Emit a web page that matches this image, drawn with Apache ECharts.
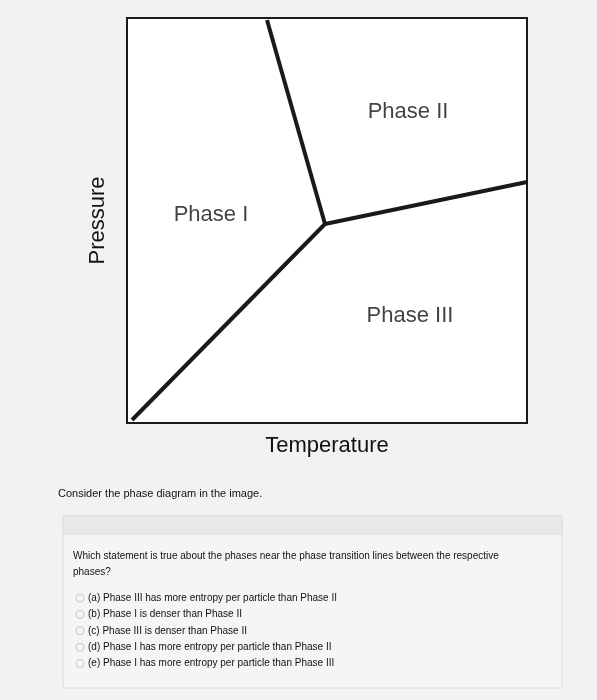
<!DOCTYPE html>
<html><head><meta charset="utf-8">
<script src="https://cdn.jsdelivr.net/npm/echarts@6/dist/echarts.min.js"></script>
<style>html,body{margin:0;padding:0;background:#f2f2f2}#c{width:597px;height:700px}</style>
</head><body><div id="c"></div>
<script>
// Phase boundary lines (temperature, pressure) in arbitrary units
const lineIIII = [[5,3],[198,199]];        // Phase I / Phase III
const lineIII = [[198,199],[140,403]];     // Phase I / Phase II
const lineIIIII = [[198,199],[400,241]];   // Phase II / Phase III
const phaseLabels = [["Phase II",281,311],["Phase I",84,208],["Phase III",283,107]];
const xName = "Temperature", yName = "Pressure";
const question = "Which statement is true about the phases near the phase transition lines between the respective";
const question2 = "phases?";
const options = [
 "(a) Phase III has more entropy per particle than Phase II",
 "(b) Phase I is denser than Phase II",
 "(c) Phase III is denser than Phase II",
 "(d) Phase I has more entropy per particle than Phase II",
 "(e) Phase I has more entropy per particle than Phase III"];

const chart = echarts.init(document.getElementById('c'));
const ls = {color:'#1a1a1a', width:4};
const tf = '500 10px "Liberation Sans", sans-serif';
const g = [
 {type:'text',style:{text:'Consider the phase diagram in the image.',x:58,y:494,fill:'#111',font:'500 11px "Liberation Sans", sans-serif',verticalAlign:'middle'}},
 {type:'rect',shape:{x:63,y:516,width:499,height:172},style:{fill:'#f5f5f5',stroke:'#dcdcdc',lineWidth:1}},
 {type:'rect',shape:{x:63,y:516,width:499,height:18},style:{fill:'#e8e8e8',stroke:'#dcdcdc',lineWidth:1}},
 {type:'text',style:{text:question,x:73,y:556,fill:'#111',font:tf,verticalAlign:'middle'}},
 {type:'text',style:{text:question2,x:73,y:572,fill:'#111',font:tf,verticalAlign:'middle'}}
];
options.forEach((t,i)=>{
 const y = 598 + i*16.4;
 g.push({type:'circle',shape:{cx:80,cy:y,r:4},style:{fill:'#f6f6f6',stroke:'#c8c8c8',lineWidth:1}});
 g.push({type:'text',style:{text:t,x:88,y:y,fill:'#111',font:tf,verticalAlign:'middle'}});
});
const mk = d=>({type:'line',data:d,symbol:'none',lineStyle:ls,silent:true});
chart.setOption({
 animation:false,
 grid:{left:127,top:18,width:400,height:405,backgroundColor:'#fff',show:true,borderColor:'#1a1a1a',borderWidth:2},
 xAxis:{type:'value',min:0,max:400,name:xName,nameLocation:'middle',nameGap:12,
  nameTextStyle:{fontSize:22,color:'#111',fontFamily:'Liberation Sans'},
  axisLine:{show:false},axisTick:{show:false},axisLabel:{show:false},splitLine:{show:false}},
 yAxis:{type:'value',min:0,max:405,name:yName,nameLocation:'middle',nameGap:18,
  nameTextStyle:{fontSize:22,color:'#111',fontFamily:'Liberation Sans'},
  axisLine:{show:false},axisTick:{show:false},axisLabel:{show:false},splitLine:{show:false}},
 series:[mk(lineIIII),mk(lineIII),mk(lineIIIII),
  {type:'scatter',symbolSize:0,data:phaseLabels.map(p=>({value:[p[1],p[2]],name:p[0]})),
   label:{show:true,position:'inside',formatter:p=>p.name,fontSize:22,color:'#111',fontFamily:'Liberation Sans'}}],
 graphic:g
});
</script></body></html>
